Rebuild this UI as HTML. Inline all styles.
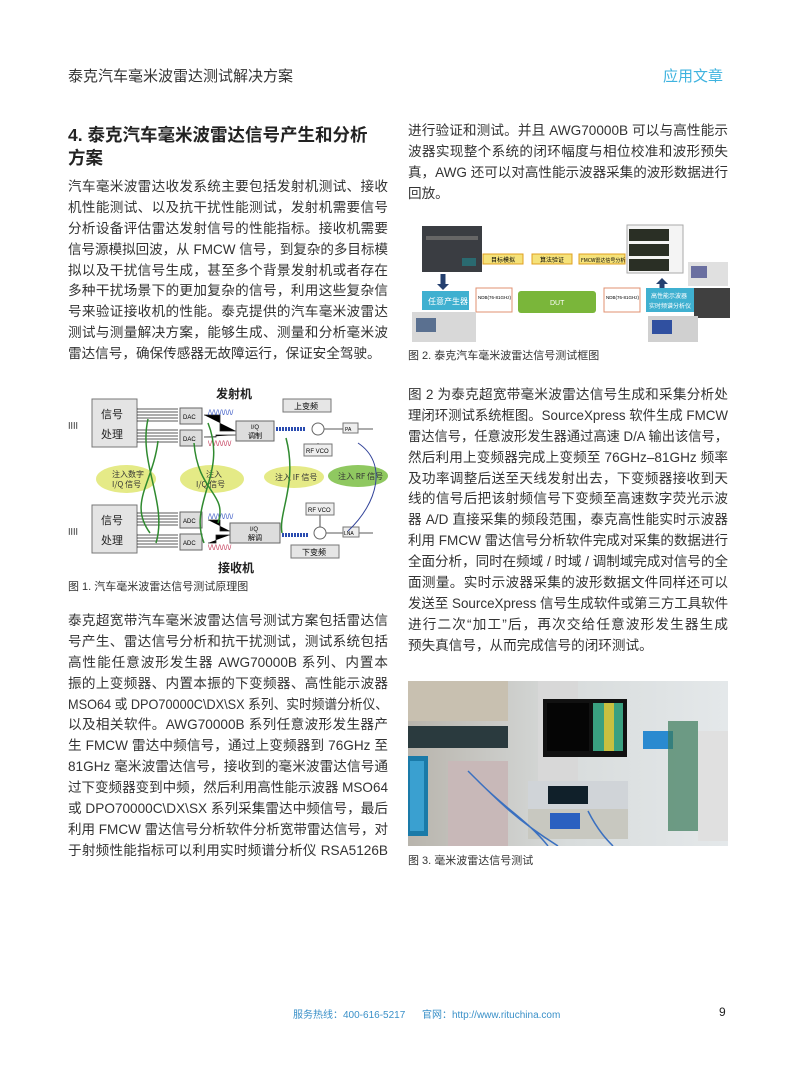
<!DOCTYPE html>
<html><head><meta charset="utf-8">
<style>
*{margin:0;padding:0;box-sizing:border-box}
body{width:793px;height:1077px;background:#fff;position:relative;overflow:hidden;font-family:"Liberation Sans","Noto Sans CJK SC",sans-serif;color:#2a2a2a}
.abs{position:absolute}
.col{position:absolute;width:320px;font-size:13.6px;line-height:20.9px;color:#333}
.col div{text-align:justify;text-align-last:justify;white-space:nowrap;height:20.9px;transform-origin:0 0}
.col div.l{text-align-last:left}
.cap{position:absolute;font-size:11px;color:#333}
</style></head><body>
<div class="abs" style="left:68px;top:65px;font-size:15px;color:#333">泰克汽车毫米波雷达测试解决方案</div>
<div class="abs" style="left:663px;top:65px;font-size:15px;color:#3fb3df">应用文章</div>

<div class="abs" style="left:68px;top:124px;font-size:17.5px;line-height:23px;font-weight:bold;color:#222">4. 泰克汽车毫米波雷达信号产生和分析<br>方案</div>

<div class="col" style="left:68px;top:177px">
<div>汽车毫米波雷达收发系统主要包括发射机测试、接收</div>
<div>机性能测试、以及抗干扰性能测试，发射机需要信号</div>
<div>分析设备评估雷达发射信号的性能指标。接收机需要</div>
<div>信号源模拟回波，从 FMCW 信号，到复杂的多目标模</div>
<div>拟以及干扰信号生成，甚至多个背景发射机或者存在</div>
<div>多种干扰场景下的更加复杂的信号，利用这些复杂信</div>
<div>号来验证接收机的性能。泰克提供的汽车毫米波雷达</div>
<div>测试与测量解决方案，能够生成、测量和分析毫米波</div>
<div class="l">雷达信号，确保传感器无故障运行，保证安全驾驶。</div>
</div>

<svg class="abs" style="left:68px;top:383px" width="322" height="195" viewBox="0 0 322 195">
<rect width="322" height="195" fill="#fff"/>
<text x="148" y="15" font-size="12" font-weight="bold" fill="#222" font-family="Noto Sans CJK SC">发射机</text>
<text x="150" y="189" font-size="12" font-weight="bold" fill="#222" font-family="Noto Sans CJK SC">接收机</text>
<rect x="24" y="16" width="45" height="48" fill="#e4e4e4" stroke="#777"/>
<text x="33" y="35" font-size="11" fill="#222" font-family="Noto Sans CJK SC">信号</text>
<text x="33" y="55" font-size="11" fill="#222" font-family="Noto Sans CJK SC">处理</text>
<rect x="24" y="122" width="45" height="48" fill="#e4e4e4" stroke="#777"/>
<text x="33" y="141" font-size="11" fill="#222" font-family="Noto Sans CJK SC">信号</text>
<text x="33" y="161" font-size="11" fill="#222" font-family="Noto Sans CJK SC">处理</text>
<g stroke="#222" stroke-width="0.8">
<path d="M69 26H110M69 29H110M69 32H110M69 35H110M69 38H110M69 47H110M69 50H110M69 53H110M69 56H110M69 59H110"/>
<path d="M69 130H110M69 133H110M69 136H110M69 139H110M69 142H110M69 152H110M69 155H110M69 158H110M69 161H110M69 164H110"/>
<path d="M136 32H152V48H168M136 54H148V52H168M140 137H152V148H162M140 160H148V152H162M244 46H305M246 150H305M250 70V60M252 130V144"/>
</g>
<rect x="112" y="25" width="22" height="16" fill="#ddd" stroke="#666"/><text x="115" y="36" font-size="6">DAC</text>
<rect x="112" y="47" width="22" height="16" fill="#ddd" stroke="#666"/><text x="115" y="58" font-size="6">DAC</text>
<rect x="112" y="129" width="22" height="16" fill="#ddd" stroke="#666"/><text x="115" y="140" font-size="6">ADC</text>
<rect x="112" y="151" width="22" height="16" fill="#ddd" stroke="#666"/><text x="115" y="162" font-size="6">ADC</text>
<rect x="168" y="38" width="38" height="20" fill="#ddd" stroke="#666"/><text x="183" y="46" font-size="6">I/Q</text><text x="180" y="55" font-size="7" font-family="Noto Sans CJK SC">调制</text>
<rect x="162" y="140" width="50" height="20" fill="#ddd" stroke="#666"/><text x="182" y="148" font-size="6">I/Q</text><text x="180" y="157" font-size="7" font-family="Noto Sans CJK SC">解调</text>
<rect x="215" y="16" width="48" height="13" fill="#e6e6e6" stroke="#777"/><text x="226" y="26" font-size="8" font-family="Noto Sans CJK SC">上变频</text>
<rect x="223" y="162" width="48" height="13" fill="#e6e6e6" stroke="#777"/><text x="234" y="172" font-size="8" font-family="Noto Sans CJK SC">下变频</text>
<rect x="236" y="61" width="28" height="12" fill="#eee" stroke="#777"/><text x="238" y="70" font-size="6">RF VCO</text>
<rect x="238" y="120" width="28" height="12" fill="#eee" stroke="#777"/><text x="240" y="129" font-size="6">RF VCO</text>
<rect x="275" y="40" width="15" height="10" fill="#eee" stroke="#777"/><text x="277" y="48" font-size="5">PA</text>
<rect x="275" y="144" width="16" height="10" fill="#eee" stroke="#777"/><text x="276" y="152" font-size="5">LNA</text>
<circle cx="250" cy="46" r="6" fill="#fff" stroke="#666"/><circle cx="252" cy="150" r="6" fill="#fff" stroke="#666"/>
<path d="M208 46h30M214 152h26" stroke="#2a4cb0" stroke-width="4" stroke-dasharray="2 1"/>
<text x="140" y="32" font-size="7" fill="#3050c0">/\/\/\/\/\/\/</text>
<text x="140" y="63" font-size="7" fill="#c03050">\/\/\/\/\/\/</text>
<text x="140" y="136" font-size="7" fill="#3050c0">/\/\/\/\/\/\/</text>
<text x="140" y="167" font-size="7" fill="#c03050">\/\/\/\/\/\/</text>
<g fill="#e2e87a" opacity="0.9">
<ellipse cx="58" cy="96" rx="30" ry="14"/><ellipse cx="144" cy="96" rx="32" ry="14"/><ellipse cx="226" cy="94" rx="30" ry="11"/></g>
<ellipse cx="290" cy="93" rx="30" ry="11" fill="#8fc860"/>
<g font-size="8" fill="#333" font-family="Noto Sans CJK SC"><text x="44" y="94">注入数字</text><text x="44" y="104">I/Q 信号</text><text x="138" y="94">注入</text><text x="128" y="104">I/Q 信号</text><text x="207" y="97">注入 IF 信号</text><text x="270" y="96">注入 RF 信号</text></g>
<g fill="none" stroke="#2f8a2f" stroke-width="1.5"><path d="M80 36C70 80 100 120 88 160M90 58C85 100 60 120 82 150M126 60C130 110 160 110 150 140M140 40C160 90 120 120 136 160M218 55C230 100 210 130 214 150"/></g>
<path d="M290 60C320 80 310 120 280 148" fill="none" stroke="#33449a" stroke-width="1"/>
<g font-size="9" fill="#222"><text x="0" y="44">ꞁꞁꞁꞁ</text><text x="0" y="150">ꞁꞁꞁꞁ</text></g>
</svg>
<div class="cap" style="left:68px;top:578px">图 1. 汽车毫米波雷达信号测试原理图</div>

<div class="col" style="left:68px;top:611px">
<div>泰克超宽带汽车毫米波雷达信号测试方案包括雷达信</div>
<div>号产生、雷达信号分析和抗干扰测试，测试系统包括</div>
<div>高性能任意波形发生器 AWG70000B 系列、内置本</div>
<div>振的上变频器、内置本振的下变频器、高性能示波器</div>
<div>MSO64 或 DPO70000C\DX\SX 系列、实时频谱分析仪、</div>
<div>以及相关软件。AWG70000B 系列任意波形发生器产</div>
<div>生 FMCW 雷达中频信号，通过上变频器到 76GHz 至</div>
<div>81GHz 毫米波雷达信号，接收到的毫米波雷达信号通</div>
<div>过下变频器变到中频，然后利用高性能示波器 MSO64</div>
<div>或 DPO70000C\DX\SX 系列采集雷达中频信号，最后</div>
<div>利用 FMCW 雷达信号分析软件分析宽带雷达信号，对</div>
<div>于射频性能指标可以利用实时频谱分析仪 RSA5126B</div>
</div>

<div class="col" style="left:408px;top:121px">
<div>进行验证和测试。并且 AWG70000B 可以与高性能示</div>
<div>波器实现整个系统的闭环幅度与相位校准和波形预失</div>
<div>真，AWG 还可以对高性能示波器采集的波形数据进行</div>
<div class="l">回放。</div>
</div>

<svg class="abs" style="left:408px;top:222px" width="322" height="120" viewBox="0 0 322 120">
<rect width="322" height="120" fill="#fff"/>
<rect x="14" y="4" width="60" height="46" fill="#3a3d42"/><rect x="18" y="14" width="52" height="4" fill="#666"/><rect x="54" y="36" width="14" height="8" fill="#2a6a70"/>
<rect x="75" y="32" width="40" height="10" fill="#f5e27a" stroke="#e0a020"/><text x="83" y="40" font-size="6" font-family="Noto Sans CJK SC">目标模拟</text>
<rect x="124" y="32" width="40" height="10" fill="#f5e27a" stroke="#e0a020"/><text x="132" y="40" font-size="6" font-family="Noto Sans CJK SC">算法验证</text>
<rect x="171" y="32" width="46" height="10" fill="#f5e27a" stroke="#e0a020"/><text x="173" y="40" font-size="5" font-family="Noto Sans CJK SC">FMCW雷达信号分析</text>
<rect x="219" y="3" width="56" height="48" fill="#f4f4f4" stroke="#aaa"/><rect x="221" y="7" width="40" height="12" fill="#2a2f25"/><rect x="221" y="22" width="40" height="12" fill="#2a2f25"/><rect x="221" y="37" width="40" height="12" fill="#2a2f25"/>
<path d="M35 52v12" stroke="#25406f" stroke-width="5"/><path d="M29 62h12l-6 6z" fill="#25406f"/>
<path d="M254 72v-12" stroke="#25406f" stroke-width="5"/><path d="M248 62h12l-6-6z" fill="#25406f"/>
<rect x="14" y="69" width="47" height="19" fill="#3fb0d0"/><text x="20" y="82" font-size="8" fill="#fff" font-family="Noto Sans CJK SC">任意产生器</text>
<rect x="68" y="66" width="36" height="24" fill="#fff" stroke="#e09070"/><text x="70" y="77" font-size="4.5">NDB(76-81GHz)</text>
<rect x="110" y="69" width="78" height="22" rx="3" fill="#7ab63a"/><text x="142" y="83" font-size="7" fill="#fff">DUT</text>
<rect x="196" y="66" width="36" height="24" fill="#fff" stroke="#e09070"/><text x="198" y="77" font-size="4.5">NDB(76-81GHz)</text>
<rect x="238" y="66" width="48" height="24" fill="#3fb0d0"/><text x="243" y="76" font-size="6" fill="#fff" font-family="Noto Sans CJK SC">高性能示波器</text><text x="241" y="86" font-size="6" fill="#fff" font-family="Noto Sans CJK SC">实时频谱分析仪</text>
<rect x="4" y="90" width="64" height="30" fill="#d8d8d8"/><rect x="8" y="96" width="20" height="14" fill="#5a7090"/>
<rect x="280" y="40" width="40" height="24" fill="#e0e0e0"/><rect x="283" y="44" width="16" height="12" fill="#6a6fa0"/>
<rect x="286" y="66" width="36" height="30" fill="#404040"/>
<rect x="240" y="94" width="50" height="26" fill="#d0d0d0"/><rect x="244" y="98" width="20" height="14" fill="#3050a0"/>
</svg>
<div class="cap" style="left:408px;top:347px">图 2. 泰克汽车毫米波雷达信号测试框图</div>

<div class="col" style="left:408px;top:385px">
<div>图 2 为泰克超宽带毫米波雷达信号生成和采集分析处</div>
<div>理闭环测试系统框图。SourceXpress 软件生成 FMCW</div>
<div>雷达信号，任意波形发生器通过高速 D/A 输出该信号，</div>
<div>然后利用上变频器完成上变频至 76GHz–81GHz 频率</div>
<div>及功率调整后送至天线发射出去，下变频器接收到天</div>
<div>线的信号后把该射频信号下变频至高速数字荧光示波</div>
<div>器 A/D 直接采集的频段范围，泰克高性能实时示波器</div>
<div>利用 FMCW 雷达信号分析软件完成对采集的数据进行</div>
<div>全面分析，同时在频域 / 时域 / 调制域完成对信号的全</div>
<div>面测量。实时示波器采集的波形数据文件同样还可以</div>
<div>发送至 SourceXpress 信号生成软件或第三方工具软件</div>
<div>进行二次“加工”后，再次交给任意波形发生器生成</div>
<div class="l">预失真信号，从而完成信号的闭环测试。</div>
</div>

<svg class="abs" style="left:408px;top:681px" width="320" height="165" viewBox="0 0 320 165">
<defs><linearGradient id="bg" x1="0" x2="1"><stop offset="0" stop-color="#b8b4ac"/><stop offset="0.5" stop-color="#d8dcdc"/><stop offset="1" stop-color="#e4e8ea"/></linearGradient></defs>
<rect width="320" height="165" fill="url(#bg)"/>
<rect x="0" y="0" width="100" height="40" fill="#c8c0b0"/>
<rect x="0" y="45" width="100" height="22" fill="#2a3a3e"/>
<rect x="0" y="75" width="20" height="80" fill="#1a7aa8"/><rect x="2" y="80" width="14" height="70" fill="#3aa0d0"/>
<rect x="40" y="80" width="60" height="85" fill="#c8b8b8"/>
<rect x="130" y="0" width="40" height="110" fill="#d8d8d8"/>
<rect x="135" y="18" width="84" height="58" fill="#111"/><rect x="139" y="22" width="42" height="48" fill="#050505"/><rect x="185" y="22" width="30" height="48" fill="#3aa080"/><rect x="196" y="22" width="10" height="48" fill="#c8c040"/>
<rect x="120" y="100" width="100" height="28" fill="#d0d4d8"/><rect x="140" y="105" width="40" height="18" fill="#10202a"/>
<rect x="120" y="128" width="100" height="30" fill="#c8c8c0"/><rect x="142" y="132" width="30" height="16" fill="#2a60c0"/>
<rect x="235" y="50" width="30" height="18" fill="#2a8ad0"/>
<rect x="260" y="40" width="30" height="110" fill="#3a7a5a" opacity="0.7"/>
<rect x="290" y="50" width="30" height="110" fill="#e0e0e0"/>
<path d="M60 90C90 120 110 140 150 165M70 100C100 130 120 140 140 165M180 130C190 150 200 160 205 165" stroke="#3a70c0" stroke-width="1.5" fill="none"/>
</svg>
<div class="cap" style="left:408px;top:852px">图 3. 毫米波雷达信号测试</div>

<div class="abs" style="left:293px;top:1006px;font-size:10px;color:#3a90c8">服务热线：400-616-5217&nbsp;&nbsp;&nbsp;&nbsp;&nbsp;&nbsp;官网：http://www.rituchina.com</div>
<div class="abs" style="left:719px;top:1005px;font-size:12px;color:#222">9</div>
<script>
document.querySelectorAll('.col div').forEach(function(d){
  d.style.display='inline-block';d.style.width='auto';
  var w=d.getBoundingClientRect().width;
  d.style.display='block';
  if(w>320){d.style.width=w+'px';d.style.textAlignLast='left';d.style.transform='scaleX('+(320/w)+')';}
  else{d.style.width='320px';}
});
</script>
</body></html>
